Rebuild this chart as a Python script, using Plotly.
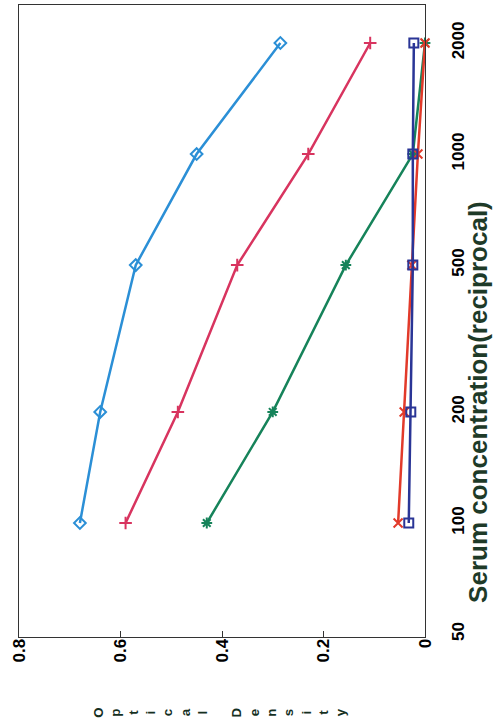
import plotly.graph_objects as go
import numpy as np

concentration = [100, 200, 500, 1000, 2000]
od_diamond = [0.68, 0.64, 0.57, 0.45, 0.285]
od_plus = [0.59, 0.487, 0.37, 0.23, 0.108]
od_star = [0.43, 0.30, 0.156, 0.024, 0.0]
od_square = [0.032, 0.028, 0.024, 0.024, 0.022]
od_x = [0.053, 0.041, 0.026, 0.014, 0.0]

od_ticks = [0, 0.2, 0.4, 0.6, 0.8]
od_ticklabels = ["0", "0.2", "0.4", "0.6", "0.8"]
conc_ticks = [50, 100, 200, 500, 1000, 2000]
conc_ticklabels = ["50", "100", "200", "500", "1000", "2000"]

styles = [
    (od_diamond, "#2b8fd6", "diamond-open"),
    (od_plus, "#d8345f", "cross-thin-open"),
    (od_star, "#16835a", "asterisk-open"),
    (od_x, "#e23a2a", "x-thin-open"),
    (od_square, "#2a3596", "square-open"),
]

fig = go.Figure()
for vals, color, sym in styles:
    fig.add_trace(go.Scatter(
        x=vals, y=concentration, mode="lines+markers",
        line=dict(color=color, width=2.5),
        marker=dict(symbol=sym, size=9, color=color, line=dict(color=color, width=2)),
        showlegend=False, cliponaxis=False,
    ))

font = "Liberation Sans, Arial, sans-serif"
fig.update_layout(
    width=495, height=719,
    margin=dict(l=19, r=70, t=5, b=82),
    paper_bgcolor="white", plot_bgcolor="white",
    font=dict(family=font, color="black"),
    xaxis=dict(
        range=[0.8, 0], tickvals=od_ticks, ticktext=od_ticklabels,
        tickangle=-90, ticks="inside", ticklen=6, tickcolor="#333",
        showgrid=False, zeroline=False, showline=True, linecolor="#333",
        linewidth=1.2, mirror=True, automargin=False, ticklabelstandoff=-6,
        tickfont=dict(size=17, family=font, color="black", weight="bold"),
    ),
    yaxis=dict(
        type="log", range=[1.691, 3.404], side="right",
        tickvals=conc_ticks, ticktext=conc_ticklabels,
        tickangle=-90, ticks="", showgrid=False, zeroline=False,
        showline=True, linecolor="#333", linewidth=1.2, mirror=True,
        automargin=False, ticklabelstandoff=17,
        tickfont=dict(size=17, family=font, color="black", weight="bold"),
    ),
)

fig.add_annotation(
    text="Serum concentration(reciprocal)", textangle=-90,
    xref="paper", yref="paper", x=1.1305, y=0.372,
    xanchor="center", yanchor="middle", showarrow=False,
    font=dict(size=26, family=font, color="#1e3a28", weight="bold"),
)

letters = list("Optical") + ["&nbsp;"] + list("Density")
fig.add_annotation(
    text="<br>".join(letters), textangle=-90,
    xref="paper", yref="paper", x=0.495, y=-0.12,
    xanchor="center", yanchor="middle", showarrow=False,
    font=dict(size=13.3, family=font, color="#15301f", weight="bold"),
)

fig.write_html("out.html", config={"displayModeBar": False},
               post_script="document.body.style.margin='0';")
